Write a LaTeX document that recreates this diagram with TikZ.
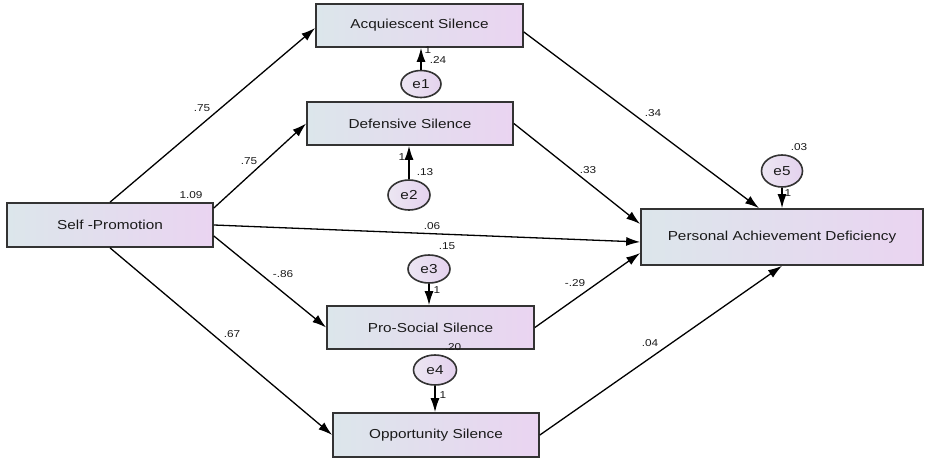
\documentclass[tikz,border=0pt]{standalone}
\usepackage{fontspec}
\setmainfont[FakeStretch=1.18]{Liberation Sans}
\usetikzlibrary{arrows.meta,calc,shapes.geometric}
\definecolor{boxL}{HTML}{DCE6EB}
\definecolor{boxR}{HTML}{EAD4F1}
\definecolor{ellL}{HTML}{ECE6F2}
\definecolor{ellR}{HTML}{E4D2EE}
\definecolor{edge}{HTML}{333333}
\definecolor{txt}{HTML}{1A1A1A}
\tikzset{
  varbox/.style={draw=edge, line width=1.7pt, left color=boxL, right color=boxR,
    rectangle, inner sep=0pt, text=txt, font=\fontsize{13}{15}\selectfont},
  errnode/.style={draw=edge, line width=1.6pt, ellipse, left color=ellL, right color=ellR,
    inner sep=0pt, text=txt, font=\fontsize{13}{15}\selectfont},
  arr/.style={draw=black, line width=1.3pt, -{Latex[length=14pt,width=9pt]}},
  coef/.style={text=txt, font=\fontsize{10}{12}\selectfont, inner sep=0pt}
}
\begin{document}
\begin{tikzpicture}[x=1pt,y=-1pt]
\useasboundingbox (0,0) rectangle (925,460);
% boxes
\node[varbox, minimum width=207pt, minimum height=43pt] (acq) at (419.5,25.5) {Acquiescent Silence};
\node[varbox, minimum width=206pt, minimum height=43pt] (def) at (410,123.5) {Defensive Silence};
\node[varbox, minimum width=206pt, minimum height=44pt] (sp) at (110,225) {Self -Promotion};
\node[varbox, minimum width=207pt, minimum height=43pt] (ps) at (430.5,327.5) {Pro-Social Silence};
\node[varbox, minimum width=206pt, minimum height=44pt] (opp) at (436,435) {Opportunity Silence};
\node[varbox, minimum width=282pt, minimum height=56pt] (pad) at (782,237) {Personal Achievement Deficiency};
% error terms
\node[errnode, minimum width=40pt, minimum height=27pt] (e1) at (421,84) {e1};
\node[errnode, minimum width=42pt, minimum height=30pt] (e2) at (409,195) {e2};
\node[errnode, minimum width=42pt, minimum height=28pt] (e3) at (429,269) {e3};
\node[errnode, minimum width=43pt, minimum height=30pt] (e4) at (435,370) {e4};
\node[errnode, minimum width=41pt, minimum height=32pt] (e5) at (782,171) {e5};
% paths from Self-Promotion
\draw[arr] (sp.north) -- ($(acq.west)+(0,2.5)$);
\draw[arr] ($(sp.east)+(0,-17)$) -- (def.west);
\draw[arr] (sp.east) -- ($(pad.west)+(0,5)$);
\draw[arr] ($(sp.east)+(0,11)$) -- (ps.west);
\draw[arr] (sp.south) -- (opp.west);
% paths to PAD
\draw[arr] ($(acq.east)+(0,6.5)$) -- ($(pad.north)+(-23,0)$);
\draw[arr] (def.east) -- ($(pad.west)+(0,-13)$);
\draw[arr] (ps.east) -- ($(pad.west)+(0,16)$);
\draw[arr] (opp.east) -- (pad.south);
% error arrows
\draw[arr] (e1.north) -- (e1.north |- acq.south);
\draw[arr] (e2.north) -- (e2.north |- def.south);
\draw[arr] (e3.south) -- (e3.south |- ps.north);
\draw[arr] (e4.south) -- (e4.south |- opp.north);
\draw[arr] (e5.south) -- (e5.south |- pad.north);
% coefficients
\node[coef] (c109) at (191,195) {1.09};
\node[coef] (c75a) at (202,108) {.75};
\node[coef] (c75b) at (249,161) {.75};
\node[coef] (c06) at (432,226) {.06};
\node[coef] (c86) at (283,274) {-.86};
\node[coef] (c67) at (232,334) {.67};
\node[coef] (c34) at (653,113) {.34};
\node[coef] (c33) at (588,170) {.33};
\node[coef] (c29) at (575,283) {-.29};
\node[coef] (c04) at (650,343) {.04};
% error labels
\node[coef] (l1a) at (428,50) {1};
\node[coef] (v1) at (438,60) {.24};
\node[coef] (l2a) at (402,157) {1};
\node[coef] (v2) at (425,172) {.13};
\node[coef] (v3) at (447,246) {.15};
\node[coef] (l3a) at (437,290) {1};
\node[coef] (v4) at (453,347) {.20};
\node[coef] (l4a) at (443,395) {1};
\node[coef] (v5) at (799,147) {.03};
\node[coef] (l5a) at (788,193) {1};
\end{tikzpicture}
\end{document}
